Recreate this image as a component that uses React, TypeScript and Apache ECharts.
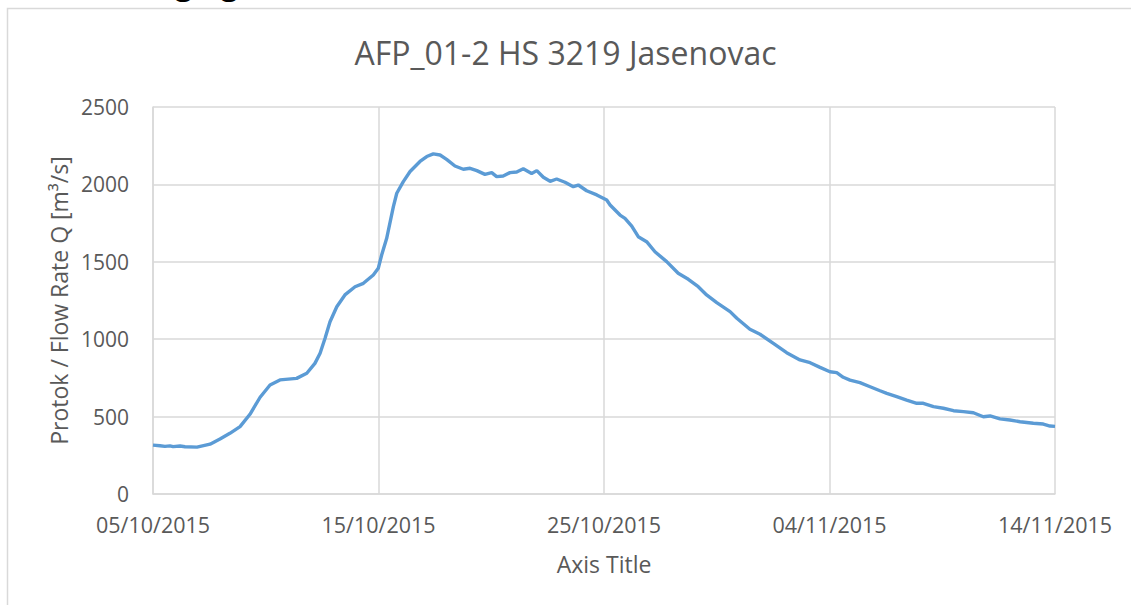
import React, { useEffect, useRef } from "react";
import * as echarts from "echarts";

// Day offset from 05/10/2015
const days = [
  0, 0.31, 0.53, 0.75, 0.89, 1.2, 1.42, 1.95, 2.53, 2.97, 3.41, 3.86, 4.3, 4.75, 5.19, 5.63, 6.37, 6.82,
  7.18, 7.41, 7.63, 7.85, 8.15, 8.51, 8.96, 9.33, 9.77, 9.99, 10.14, 10.36, 10.66, 10.81, 11.1, 11.4,
  11.84, 12.14, 12.43, 12.73, 13.02, 13.39, 13.76, 14.06, 14.36, 14.72, 15.02, 15.24, 15.53, 15.83,
  16.13, 16.42, 16.79, 17.02, 17.31, 17.61, 17.9, 18.27, 18.64, 18.86, 19.23, 19.68, 20.12, 20.27,
  20.71, 20.93, 21.23, 21.52, 21.89, 22.26, 22.78, 23.29, 23.74, 24.18, 24.55, 25.0, 25.59, 25.89,
  26.47, 26.92, 27.51, 28.1, 28.69, 29.14, 29.58, 30.02, 30.32, 30.61, 30.91, 31.35, 31.8, 32.24,
  32.54, 32.98, 33.42, 33.87, 34.16, 34.61, 35.05, 35.5, 35.94, 36.38, 36.82, 37.12, 37.56, 38.0,
  38.45, 39.04, 39.48, 39.78, 40.0,
];

// Flow rate Q [m3/s]
const flow = [
  316, 312, 308, 311, 306, 310, 305, 303, 322, 355, 392, 435, 515, 625, 704, 737, 747, 780,
  844, 909, 1006, 1113, 1210, 1286, 1339, 1361, 1415, 1458, 1544, 1650, 1856, 1943, 2018, 2083,
  2148, 2180, 2197, 2190, 2162, 2119, 2098, 2104, 2089, 2065, 2076, 2050, 2054, 2076,
  2080, 2101, 2071, 2089, 2046, 2020, 2035, 2014, 1985, 1996, 1959, 1932, 1899, 1867,
  1802, 1781, 1731, 1662, 1630, 1565, 1501, 1426, 1387, 1339, 1286, 1236, 1178, 1135,
  1064, 1032, 973, 913, 866, 848, 818, 790, 784, 754, 736, 719, 693, 667,
  650, 629, 607, 586, 586, 564, 554, 538, 532, 525, 499, 504, 485, 478,
  467, 457, 452, 439, 437,
];

const yTicks = [0, 500, 1000, 1500, 2000, 2500];
const xTickDays = [0, 10, 20, 30, 40];

const chartTitle = "AFP_01-2 HS 3219 Jasenovac";
const yAxisName = "Protok / Flow Rate Q [m³/s]";
const xAxisName = "Axis Title";
const headerText = "Averaging values (AFP_01-2)";

const BASE = Date.UTC(2015, 9, 5);
function fmtDay(d: number): string {
  const dt = new Date(BASE + Math.round(d) * 86400000);
  const dd = String(dt.getUTCDate()).padStart(2, "0");
  const mm = String(dt.getUTCMonth() + 1).padStart(2, "0");
  return `${dd}/${mm}/${dt.getUTCFullYear()}`;
}

const FONT = "'Open Sans', 'DejaVu Sans', sans-serif";
const TXT = "#595959";
const GRID = "#d9d9d9";

export default function App() {
  const ref = useRef<HTMLDivElement>(null);
  useEffect(() => {
    if (!ref.current) return;
    const chart = echarts.init(ref.current, null, { renderer: "svg" });
    chart.setOption({
      animation: false,
      backgroundColor: "#ffffff",
      textStyle: { fontFamily: FONT },
      title: {
        text: chartTitle,
        left: "center",
        top: 31,
        textStyle: { fontFamily: FONT, fontSize: 32, fontWeight: "normal", color: TXT },
      },
      graphic: [
        {
          type: "rect",
          shape: { x: 7.5, y: 8.5, width: 1300, height: 800 },
          style: { fill: "none", stroke: GRID, lineWidth: 1.5 },
          silent: true,
        },
        {
          type: "text",
          x: 88,
          y: -16.5,
          style: {
            text: headerText,
            fontFamily: FONT,
            fontSize: 30,
            fontWeight: "bold",
            fill: "#000000",
            verticalAlign: "middle",
            align: "left",
          },
          silent: true,
        },
      ],
      grid: { left: 153, right: 76, top: 107, bottom: 111, containLabel: false },
      xAxis: {
        type: "value",
        min: xTickDays[0],
        max: xTickDays[xTickDays.length - 1],
        interval: 10,
        name: xAxisName,
        nameLocation: "middle",
        nameGap: 58,
        nameTextStyle: { fontFamily: FONT, fontSize: 23, color: TXT },
        axisLine: { lineStyle: { color: GRID, width: 1.5 } },
        axisTick: { show: false },
        axisLabel: {
          fontFamily: FONT,
          fontSize: 21.5,
          color: TXT,
          margin: 19,
          formatter: (v: number) => fmtDay(v),
        },
        splitLine: { show: true, lineStyle: { color: GRID, width: 1.5 } },
      },
      yAxis: {
        type: "value",
        min: yTicks[0],
        max: yTicks[yTicks.length - 1],
        interval: 500,
        name: yAxisName,
        nameLocation: "middle",
        nameGap: 80,
        nameRotate: 90,
        nameTextStyle: { fontFamily: FONT, fontSize: 23, color: TXT },
        axisLine: { show: true, lineStyle: { color: GRID, width: 1.5 } },
        axisTick: { show: false },
        axisLabel: {
          fontFamily: FONT,
          fontSize: 21,
          color: TXT,
          margin: 24,
          formatter: (v: number) => String(v),
        },
        splitLine: { show: true, lineStyle: { color: GRID, width: 1.5 } },
      },
      series: [
        {
          type: "line",
          data: days.map((d, i) => [d, flow[i]]),
          showSymbol: false,
          symbol: "none",
          lineStyle: { color: "#5b9bd5", width: 3.4 },
          smooth: false,
        },
      ],
    });
    return () => chart.dispose();
  }, []);
  return (
    <div
      ref={ref}
      style={{ position: "fixed", left: 0, top: 0, width: 1131, height: 605 }}
    />
  );
}
